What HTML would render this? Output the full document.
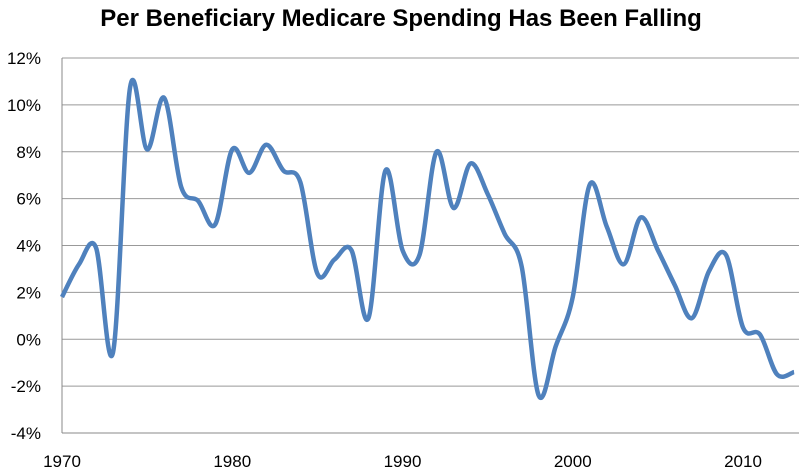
<!DOCTYPE html>
<html><head><meta charset="utf-8"><style>
html,body{margin:0;padding:0;background:#fff;}
svg{display:block;font-family:"Liberation Sans",sans-serif;}
</style></head><body>
<svg id="chart" width="799" height="472">
<text x="401" y="26" text-anchor="middle" font-size="24" font-weight="bold" fill="#000">Per Beneficiary Medicare Spending Has Been Falling</text>
<g id="grid"></g><g id="yticks"></g><g id="xticks"></g>
<path id="line" fill="none" stroke="#4F81BD" stroke-width="4.5" stroke-linejoin="round"></path>
</svg>
<script>
const years=[1970,1971,1972,1973,1974,1975,1976,1977,1978,1979,1980,1981,1982,1983,1984,1985,1986,1987,1988,1989,1990,1991,1992,1993,1994,1995,1996,1997,1998,1999,2000,2001,2002,2003,2004,2005,2006,2007,2008,2009,2010,2011,2012,2013];
const values=[1.8,3.2,3.9,-0.55,10.75,8.1,10.3,6.5,5.9,4.9,8.1,7.1,8.3,7.2,6.7,2.8,3.4,3.8,0.9,7.2,3.8,3.6,8.0,5.6,7.5,6.2,4.5,3.1,-2.4,-0.3,1.8,6.6,4.8,3.2,5.2,3.8,2.3,0.9,2.9,3.6,0.5,0.2,-1.5,-1.4];
const yTicks=[-4,-2,0,2,4,6,8,10,12];
const xTicks=[1970,1980,1990,2000,2010];
const X0=62,X1=799,Y0=433,Y1=58;
const xs=y=>X0+(y-1970)*(743-62)/40;
const ys=v=>Y0-(v+4)*(Y0-Y1)/16;
const NS="http://www.w3.org/2000/svg";
const grid=document.getElementById('grid'),yt=document.getElementById('yticks'),xt=document.getElementById('xticks');
yTicks.forEach(t=>{
 const l=document.createElementNS(NS,'line');
 l.setAttribute('x1',X0);l.setAttribute('x2',X1);l.setAttribute('y1',ys(t));l.setAttribute('y2',ys(t));
 l.setAttribute('stroke',t===-4?'#888':'#999');l.setAttribute('stroke-width','1');
 
 
 grid.appendChild(l);
 const tx=document.createElementNS(NS,'text');
 tx.setAttribute('x',41);tx.setAttribute('y',ys(t)+6);tx.setAttribute('text-anchor','end');tx.setAttribute('font-size','17');
 tx.textContent=t+'%';
 
 
 yt.appendChild(tx);
});
const ax=document.createElementNS(NS,'line');
ax.setAttribute('x1',X0);ax.setAttribute('x2',X0);ax.setAttribute('y1',Y1);ax.setAttribute('y2',Y0);ax.setAttribute('stroke','#888');


grid.appendChild(ax);
xTicks.forEach(t=>{
 const tx=document.createElementNS(NS,'text');
 tx.setAttribute('x',xs(t));tx.setAttribute('y',467);tx.setAttribute('text-anchor','middle');tx.setAttribute('font-size','17');
 tx.textContent=t;
 
 
 xt.appendChild(tx);
});
const pts=years.map((y,i)=>[xs(y),ys(values[i])]);
let d='M'+pts[0][0]+','+pts[0][1];
for(let i=0;i<pts.length-1;i++){
 const p0=pts[i-1]||pts[i],p1=pts[i],p2=pts[i+1],p3=pts[i+2]||p2;
 const c1=[p1[0]+(p2[0]-p0[0])/6,p1[1]+(p2[1]-p0[1])/6];
 const c2=[p2[0]-(p3[0]-p1[0])/6,p2[1]-(p3[1]-p1[1])/6];
 d+=' C'+c1+' '+c2+' '+p2;
}
document.getElementById('line').setAttribute('d',d);
</script>
</body></html>
